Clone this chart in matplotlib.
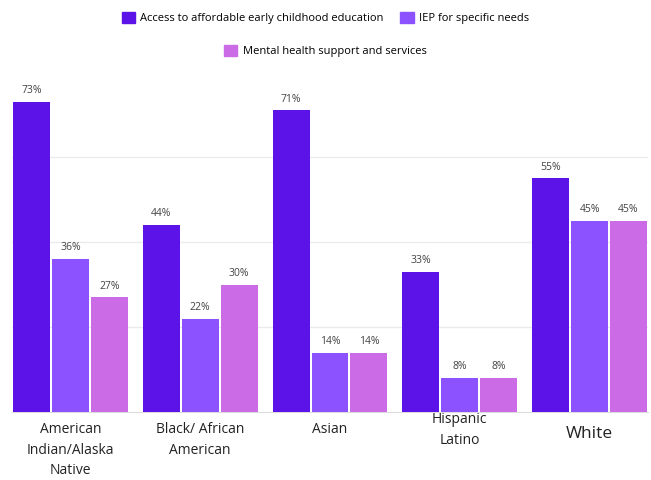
import matplotlib.pyplot as plt
import matplotlib.transforms as mtransforms
from matplotlib.patches import Patch
import numpy as np

plt.rcParams['font.family'] = ['Open Sans', 'DejaVu Sans']

groups = ['American\nIndian/Alaska\nNative', 'Black/ African\nAmerican', 'Asian',
          'Hispanic\nLatino', 'White']
series = ['Access to affordable early childhood education', 'IEP for specific needs',
          'Mental health support and services']
early_ed = [73, 44, 71, 33, 55]
iep = [36, 22, 14, 8, 45]
mental = [27, 30, 14, 8, 45]
colors = ['#5c13e8', '#8c52ff', '#cb6ce6']

fig = plt.figure(figsize=(6.51, 4.80), dpi=100)
ax = fig.add_axes([12 / 651, 68 / 480, 636 / 651, 340 / 480])

x = np.arange(len(groups))
w = 0.285
offsets = [-0.3, 0, 0.3]
for vals, off, c in zip([early_ed, iep, mental], offsets, colors):
    bars = ax.bar(x + off, vals, w, color=c, zorder=3)
    for b, v in zip(bars, vals):
        ax.text(b.get_x() + b.get_width() / 2, v + 1.3, f'{v}%', ha='center', va='bottom',
                fontsize=7.5, color='#444444', zorder=4)

ax.set_xlim(-0.45, 4.45)
ax.set_ylim(0, 80)
ax.set_yticks([20, 40, 60])
ax.yaxis.grid(True, color='#ebebeb', linewidth=1, zorder=0)
ax.tick_params(left=False, labelleft=False, bottom=False, labelbottom=False)
for s in ['top', 'right', 'left']:
    ax.spines[s].set_visible(False)
ax.spines['bottom'].set_color('#dddddd')

# category labels under each group
trans = mtransforms.blended_transform_factory(ax.transData, ax.transAxes)
label_y = [-0.03, -0.03, -0.03, 0.0, -0.04]
label_size = [10, 10, 10, 10, 12.5]
for xi, g, yy, fs in zip(x, groups, label_y, label_size):
    ax.text(xi, yy, g, transform=trans, ha='center', va='top', fontsize=fs,
            color='#222222', linespacing=1.5)

handles = [Patch(color=c) for c in colors]
fig.legend(handles[:2], series[:2], loc='center', bbox_to_anchor=(0.5, 1 - 18 / 480),
           ncol=2, frameon=False, fontsize=8, handlelength=1.2, handleheight=1.2,
           columnspacing=1.5, handletextpad=0.5)
fig.legend(handles[2:], series[2:], loc='center', bbox_to_anchor=(0.5, 1 - 51 / 480),
           frameon=False, fontsize=8, handlelength=1.2, handleheight=1.2, handletextpad=0.5)

fig.savefig('out.png', dpi=100)
